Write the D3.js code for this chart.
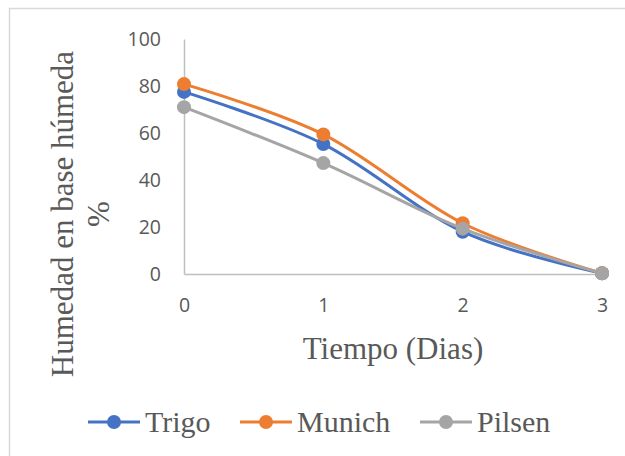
<!DOCTYPE html>
<html>
<head>
<meta charset="utf-8">
<script src="https://cdn.jsdelivr.net/npm/d3@7"></script>
<style>
  body { margin: 0; background: #fff; }
  svg { display: block; }
</style>
</head>
<body>
<svg id="chart" width="625" height="456"></svg>
<script>
// datos
const dias = [0, 1, 2, 3]
const trigo = [77.5, 55.3, 18.0, 0.3]
const munich = [80.8, 59.4, 21.6, 0.3]
const pilsen = [71.0, 47.2, 19.3, 0.3]
const yTicks = [0, 20, 40, 60, 80, 100]

const series = [
    { name: "Trigo", values: trigo, color: "#4472C4" },
    { name: "Munich", values: munich, color: "#ED7D31" },
    { name: "Pilsen", values: pilsen, color: "#A5A5A5" }
]

const svg = d3.select("#chart")
const textColor = "#595959"

// borde del area del grafico
svg.append("rect")
    .attr("x", 9.5).attr("y", 8.5)
    .attr("width", 640).attr("height", 470)
    .attr("fill", "none")
    .attr("stroke", "#D9D9D9")
    .attr("stroke-width", 1.5)

const x = d3.scaleLinear().domain([0, 3]).range([184, 602])
const y = d3.scaleLinear().domain([0, 100]).range([274, 39])

// ejes
const xAxis = svg.append("g")
    .attr("transform", `translate(0,${y(0)})`)
    .call(d3.axisBottom(x).tickValues(dias).tickFormat(d3.format("d")).tickSize(0))
const yAxis = svg.append("g")
    .attr("transform", `translate(${x(0)},0)`)
    .call(d3.axisLeft(y).tickValues(yTicks).tickSize(0).tickPadding(23))

for (const g of [xAxis, yAxis]) {
    g.select(".domain").attr("stroke", "#BFBFBF").attr("stroke-width", 1.5)
    g.selectAll("text")
        .attr("fill", textColor)
        .style("font-family", "'Open Sans', sans-serif")
        .style("font-size", "19.5px")
}
yAxis.selectAll("text").attr("dy", "0.35em")
xAxis.selectAll("text").attr("dy", "0.35em").attr("y", 31)

// lineas suavizadas
const line = d3.line()
    .x((d, i) => x(dias[i]))
    .y(d => y(d))
    .curve(d3.curveCardinal.tension(0))

series.forEach(s => {
    svg.append("path")
        .datum(s.values)
        .attr("d", line)
        .attr("fill", "none")
        .attr("stroke", s.color)
        .attr("stroke-width", 3)
        .attr("stroke-linecap", "round")
    svg.selectAll(null)
        .data(s.values)
        .enter()
        .append("circle")
        .attr("cx", (d, i) => x(dias[i]))
        .attr("cy", d => y(d))
        .attr("r", 7)
        .attr("fill", s.color)
})

// titulos
svg.append("text")
    .attr("x", 393).attr("y", 359)
    .attr("text-anchor", "middle")
    .attr("fill", textColor)
    .style("font-family", "'Liberation Serif', 'Times New Roman', serif")
    .style("font-size", "31px")
    .text("Tiempo (Dias)")

const yTitle = svg.append("text")
    .attr("transform", "translate(73,214) rotate(-90)")
    .attr("text-anchor", "middle")
    .attr("fill", textColor)
    .style("font-family", "'Liberation Serif', 'Times New Roman', serif")
    .style("font-size", "31px")
yTitle.append("tspan").attr("x", 0).attr("y", 0).text("Humedad en base húmeda")
yTitle.append("tspan").attr("x", 0).attr("y", 36).text("%")

// leyenda
const legendX = [88, 240, 420]
const legend = svg.append("g")
series.forEach((s, i) => {
    const lx = legendX[i]
    const ly = 422
    legend.append("line")
        .attr("x1", lx).attr("x2", lx + 52)
        .attr("y1", ly).attr("y2", ly)
        .attr("stroke", s.color)
        .attr("stroke-width", 3)
    legend.append("circle")
        .attr("cx", lx + 26).attr("cy", ly)
        .attr("r", 7)
        .attr("fill", s.color)
    legend.append("text")
        .attr("x", lx + 57).attr("y", ly + 10)
        .attr("fill", textColor)
        .style("font-family", "'Liberation Serif', 'Times New Roman', serif")
        .style("font-size", "30px")
        .text(s.name)
})
</script>
</body>
</html>
